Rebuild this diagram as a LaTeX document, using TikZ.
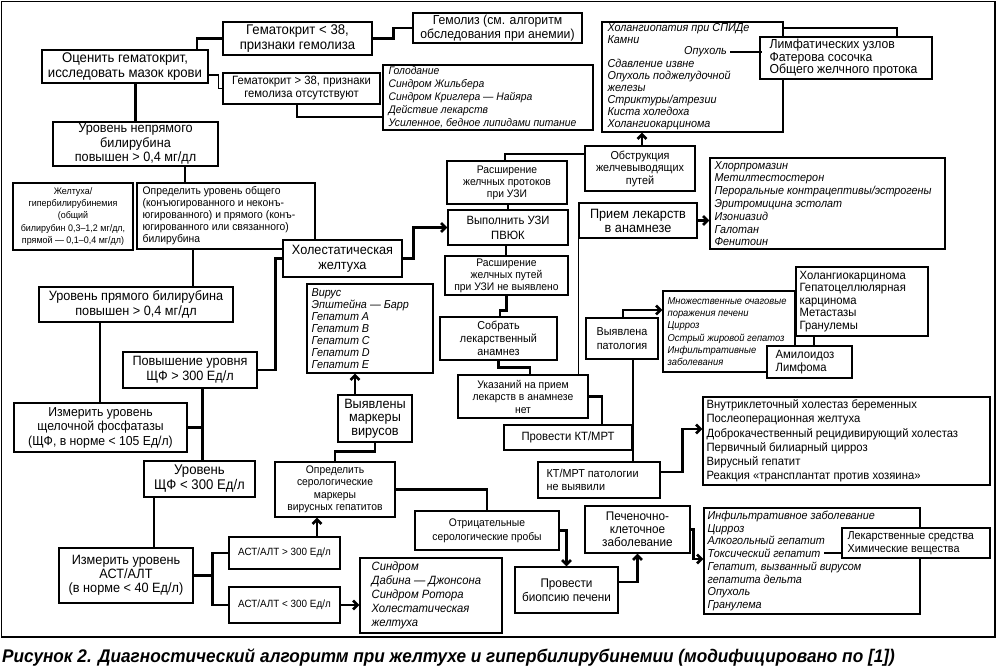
\documentclass[tikz,border=0pt]{standalone}
\usepackage{fontspec}
\setmainfont{Liberation Sans}[FakeStretch=0.94]
\usetikzlibrary{arrows.meta}
\tikzset{
 boxs/.style={draw,fill=white,line width=1.2pt,inner sep=0pt},
 txt/.style={inner sep=0pt},
 conn/.style={line width=2.6pt},
 med/.style={line width=1.6pt},
 thinl/.style={line width=1.1pt},
 arr/.style={-{Straight Barb[length=4.5pt,width=9pt]}},
 fz/.style 2 args={font=\fontsize{#1}{#2}\selectfont},
 fi/.style 2 args={font=\fontsize{#1}{#2}\selectfont\itshape},
}
\newcommand\bxc[7]{%
 \node[boxs,minimum width={#4pt-#2pt},minimum height={#5pt-#3pt}] (#1) at ({(#2+#4)/2},{(#3+#5)/2}) {};
 \node[txt,align=center,#6] (#1t) at (#1.center) {#7};}
\newcommand\bxl[7]{%
 \node[boxs,minimum width={#4pt-#2pt},minimum height={#5pt-#3pt}] (#1) at ({(#2+#4)/2},{(#3+#5)/2}) {};
 \node[txt,align=left,anchor=west,#6] (#1t) at ([xshift=4pt]#1.west) {#7};}
\begin{document}
\begin{tikzpicture}[x=1pt,y=-1pt]
\useasboundingbox (0,0) rectangle (1000,668);
\draw[line width=1.4pt] (1.5,1.5) rectangle (995,637);

\bxc{A}{42}{50}{208}{83}{fz={14}{14.5}}{Оценить гематокрит,\\исследовать мазок крови}
\bxc{B}{223}{22}{372}{55}{fz={14}{14.5}}{Гематокрит < 38,\\признаки гемолиза}
\bxc{C}{413}{13}{582}{43}{fz={13}{14}}{Гемолиз (см. алгоритм\\обследования при анемии)}
\bxc{D}{223}{73}{380}{104}{fz={12}{13}}{Гематокрит > 38, признаки\\гемолиза отсутствуют}
\bxl{E}{383}{65}{593}{130}{fi={11}{13},xshift=2pt}{Голодание\\Синдром Жильбера\\Синдром Криглера — Найяра\\Действие лекарств\\Усиленное, бедное липидами питание}
\bxc{F}{53}{122}{218}{166}{fz={13.5}{14.5}}{Уровень непрямого\\билирубина\\повышен > 0,4 мг/дл}
\bxc{G}{13}{183}{133}{250}{fz={9.5}{12.3}}{Желтуха/\\гипербилирубинемия\\(общий\\билирубин 0,3–1,2 мг/дл,\\прямой — 0,1–0,4 мг/дл)}
\bxl{H}{137}{183}{315}{249}{fz={11}{12},xshift=2pt}{Определить уровень общего\\(конъюгированного и неконъ-\\югированного) и прямого (конъ-\\югированного или связанного)\\билирубина}
\bxc{I}{39}{287}{233}{322}{fz={13.5}{14.5}}{Уровень прямого билирубина\\повышен > 0,4 мг/дл}
\bxc{J}{283}{240}{402}{277}{fz={13.5}{15}}{Холестатическая\\желтуха}
\bxc{K}{123}{352}{257}{388}{fz={13.5}{15}}{Повышение уровня\\ЩФ > 300 Ед/л}
\bxc{BB}{14}{403}{187}{452}{fz={13}{14.5}}{Измерить уровень\\щелочной фосфатазы\\(ЩФ, в норме < 105 Ед/л)}
\bxc{CC}{144}{461}{255}{497}{fz={14}{15}}{Уровень\\ЩФ < 300 Ед/л}
\bxc{DD}{59}{548}{193}{603}{fz={13.5}{14}}{Измерить уровень\\АСТ/АЛТ\\(в норме < 40 Ед/л)}
\bxc{EE}{229}{537}{340}{569}{fz={10.5}{12}}{АСТ/АЛТ > 300 Ед/л}
\bxc{FF}{229}{587}{340}{623}{fz={10.5}{12}}{АСТ/АЛТ < 300 Ед/л}
\bxc{GG}{275}{462}{395}{517}{fz={11}{12.5}}{Определить\\серологические\\маркеры\\вирусных гепатитов}
\bxc{HH}{338}{395}{412}{442}{fz={13.5}{13.5}}{Выявлены\\маркеры\\вирусов}
\bxl{II}{307}{284}{433}{373}{fi={11.5}{12},xshift=1pt}{Вирус\\Эпштейна — Барр\\Гепатит A\\Гепатит B\\Гепатит C\\Гепатит D\\Гепатит E}
\bxc{JJ}{415}{511}{559}{550}{fz={11}{14}}{Отрицательные\\серологические пробы}
\bxc{KK}{515}{567}{618}{613}{fz={12.5}{14}}{Провести\\биопсию печени}
\bxc{LL}{585}{506}{690}{553}{fz={12.5}{13}}{Печеночно-\\клеточное\\заболевание}
\bxl{MM}{704}{508}{920}{614}{fi={11.5}{12.7}}{Инфильтративное заболевание\\Цирроз\\Алкогольный гепатит\\Токсический гепатит\\Гепатит, вызванный вирусом\\гепатита дельта\\Опухоль\\Гранулема}
\bxl{NN}{842}{528}{990}{558}{fz={11.5}{12.5},xshift=2pt}{Лекарственные средства\\Химические вещества}
\bxl{OO}{360}{558}{502}{633}{fi={12}{14},xshift=8pt}{Синдром\\Дабина — Джонсона\\Синдром Ротора\\Холестатическая\\желтуха}
\bxc{L}{448}{210}{568}{245}{fz={12}{15}}{Выполнить УЗИ\\ПВЮК}
\bxc{M}{447}{161}{567}{204}{fz={11}{12}}{Расширение\\желчных протоков\\при УЗИ}
\bxc{N}{585}{146}{695}{191}{fz={11.5}{12.5}}{Обструкция\\желчевыводящих\\путей}
\bxl{O}{602}{22}{783}{132}{fi={11.5}{12},xshift=2pt}{Холангиопатия при СПИДе\\Камни\\[12pt]Сдавление извне\\Опухоль поджелудочной\\железы\\Стриктуры/атрезии\\Киста холедоха\\Холангиокарцинома}
\bxl{P}{760}{37}{932}{79}{fz={13}{12.5},xshift=6pt}{Лимфатических узлов\\Фатерова сосочка\\Общего желчного протока}
\bxc{Q}{579}{203}{697}{238}{fz={13.5}{14}}{Прием лекарств\\в анамнезе}
\bxl{R}{710}{158}{945}{249}{fi={11.5}{12.8},xshift=1pt}{Хлорпромазин\\Метилтестостерон\\Пероральные контрацептивы/эстрогены\\Эритромицина эстолат\\Изониазид\\Галотан\\Фенитоин}
\bxc{S}{445}{256}{568}{295}{fz={11}{12}}{Расширение\\желчных путей\\при УЗИ не выявлено}
\bxc{T}{440}{317}{557}{360}{fz={11.5}{13}}{Собрать\\лекарственный\\анамнез}
\bxc{U}{458}{375}{588}{418}{fz={11}{12.5}}{Указаний на прием\\лекарств в анамнезе\\нет}
\bxc{V}{504}{425}{632}{450}{fz={12}{14}}{Провести КТ/МРТ}
\bxc{W}{586}{318}{658}{359}{fz={11.5}{14}}{Выявлена\\патология}
\bxl{X}{538}{462}{660}{498}{fz={11.5}{13},xshift=5pt}{КТ/МРТ патологии\\не выявили}
\bxl{Y}{663}{291}{795}{372}{fi={10}{12.3},xshift=1pt}{Множественные очаговые\\поражения печени\\Цирроз\\Острый жировой гепатоз\\Инфильтративные\\заболевания}
\bxl{Z1}{796}{267}{928}{336}{fz={12}{12.5}}{Холангиокарцинома\\Гепатоцеллюлярная\\карцинома\\Метастазы\\Гранулемы}
\bxl{Z2}{767}{346}{852}{378}{fz={12}{13},xshift=5pt}{Амилоидоз\\Лимфома}
\bxl{AA}{703}{397}{990}{485}{fz={12}{14.2}}{Внутриклеточный холестаз беременных\\Послеоперационная желтуха\\Доброкачественный рецидивирующий холестаз\\Первичный билиарный цирроз\\Вирусный гепатит\\Реакция «трансплантат против хозяина»}

\node[txt,fi={11.5}{12},anchor=east] (opx) at (727,52) {Опухоль};

% connectors
\draw[conn] ([xshift=72pt]A.north) |- (B.west);
\draw[conn] (B.east) -- ++(21,0) |- (C.west);
\draw[med] ([yshift=-8.5pt]A.east) -- ++(10,0) |- (D.west);
\draw[med] ([xshift=-4.5pt]D.south) |- ([yshift=-19.5pt]E.west);
\draw[conn] (F.north |- A.south) -- (F.north);
\draw[conn] ([xshift=49.5pt]F.south) -- ([xshift=49.5pt]F.south |- H.north);
\draw[conn] ([xshift=-33pt]H.south) -- ([xshift=-33pt]H.south |- I.north);
\draw[conn] ([xshift=-36pt]I.south) -- ([xshift=-36pt]I.south |- BB.north);
\draw[conn] (BB.east) -- ++(15,0) coordinate (j1);
\draw[conn] (j1 |- K.south) -- (j1 |- CC.north);
\draw[conn] (K.east) -- ++(18,0) |- (J.west);
\draw[conn,arr] (J.east) -- ++(11,0) |- (L.west);
\draw[med] (L.north) -- (L.north |- M.south);
\draw[med] ([xshift=-2pt]M.north) |- ([yshift=14.5pt]N.west);
\draw[conn,arr] ([xshift=2pt]N.north) -- ([xshift=2pt]N.north |- O.south);
\draw[med] ([yshift=49pt]O.east) -| ([xshift=51pt]P.north);
\draw[thinl] ([xshift=3pt]opx.east) -- ([xshift=3pt]opx.east -| P.west);
\draw[conn,arr] (Q.east) -- (Q.east -| R.west);
\draw[med] (Q.south west) -- (Q.south west |- U.north);
\draw[conn] ([xshift=-2pt]L.south) -- ([xshift=-2pt]L.south |- S.north);
\draw[conn] (S.south) -- ++(0,15) -| ([xshift=1.5pt]T.north);
\draw[conn] (T.south) -- ++(0,7) -| ([xshift=7pt]U.north);
\draw[conn] (U.east) -| ([xshift=34pt]V.north);
\draw[conn] ([xshift=11pt]W.south) -- ([xshift=11pt]W.south |- X.north);
\draw[conn,arr] ([xshift=1pt]W.north) |- ([yshift=21.5pt]Y.west);
\draw[thinl] ([xshift=-48pt]Z1.south) -- ([xshift=-48pt]Z1.south |- Z2.north);
\draw[conn,arr] ([yshift=8pt]X.east) -- ++(22,0) |- ([yshift=12pt]AA.west);
\draw[conn] ([xshift=-45.5pt]CC.south) -- ([xshift=-45.5pt]CC.south |- DD.north);
\draw[conn] (DD.east) -- ++(19,0) coordinate (j2);
\draw[conn] (EE.west) -| (j2) |- (FF.west);
\draw[conn,arr] ([xshift=32.5pt]EE.north) -- ([xshift=32.5pt]EE.north |- GG.south);
\draw[conn] (GG.north) -- ++(0,-10) -| (HH.south);
\draw[conn,arr] ([xshift=-20pt]HH.north) -- ([xshift=-20pt]HH.north |- II.south);
\draw[conn] (GG.east) -| (JJ.north);
\draw[conn,arr] (JJ.east) -| (KK.north);
\draw[conn,arr] ([yshift=8pt]KK.east) -| (LL.south);
\draw[conn,arr] (LL.east) -- ++(3,0) |- ([yshift=2pt]MM.west);
\draw[conn,arr] (FF.east) -- (FF.east -| OO.west);
\coordinate (tox) at (824,553);
\draw[thinl] (tox) -- (tox -| NN.west);

\node[txt,anchor=base west,font=\fontsize{18.3}{20}\selectfont\bfseries\itshape] (cap) at (2,662) {Рисунок 2. Диагностический алгоритм при желтухе и гипербилирубинемии (модифицировано по [1])};
\end{tikzpicture}
\end{document}
